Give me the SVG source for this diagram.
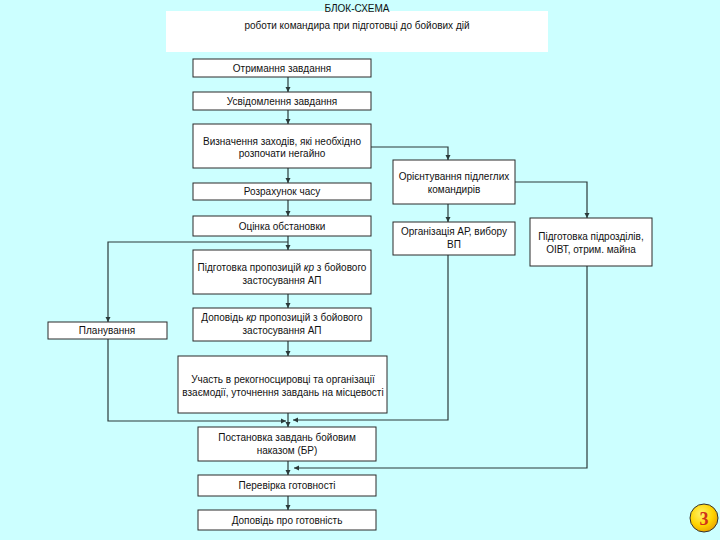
<svg xmlns="http://www.w3.org/2000/svg" width="720" height="540" viewBox="0 0 720 540">
<defs>
<style>
.b{fill:#fff;stroke:#2b2b2b;stroke-width:1}
.t{font-family:"Liberation Sans",Arial,sans-serif;font-size:10px;fill:#111;text-anchor:middle}
.c{fill:none;stroke:#2b3a3a;stroke-width:1.2}
</style>
<marker id="a" markerWidth="6" markerHeight="6" refX="5" refY="3" orient="auto" markerUnits="userSpaceOnUse">
<path d="M0,0.5 L5,3 L0,5.5 Z" fill="#2b3a3a"/>
</marker>
<radialGradient id="g" cx="0.4" cy="0.35" r="0.7">
<stop offset="0" stop-color="#fff36a"/>
<stop offset="0.6" stop-color="#ffd400"/>
<stop offset="1" stop-color="#e8a000"/>
</radialGradient>
</defs>
<rect x="0" y="0" width="720" height="540" fill="#ccffff"/>
<g id="header">
<rect x="166" y="11" width="382" height="41" fill="#fff"/>
<text class="t" x="357" y="12">БЛОК-СХЕМА</text>
<text class="t" x="357" y="29">роботи командира при підготовці до бойових дій</text>
</g>
<g id="connectors">
<path class="c" d="M288,77 V92" marker-end="url(#a)"/>
<path class="c" d="M288,110 V124" marker-end="url(#a)"/>
<path class="c" d="M288,168 V183" marker-end="url(#a)"/>
<path class="c" d="M288,200 V216" marker-end="url(#a)"/>
<path class="c" d="M288,236 V250" marker-end="url(#a)"/>
<path class="c" d="M288,294 V308" marker-end="url(#a)"/>
<path class="c" d="M288,341 V356" marker-end="url(#a)"/>
<path class="c" d="M288,413 V427" marker-end="url(#a)"/>
<path class="c" d="M288,461 V475" marker-end="url(#a)"/>
<path class="c" d="M288,496 V510" marker-end="url(#a)"/>
<path class="c" d="M371,147 H448 V160" marker-end="url(#a)"/>
<path class="c" d="M515,182 H587 V218" marker-end="url(#a)"/>
<path class="c" d="M448,204 V222" marker-end="url(#a)"/>
<path class="c" d="M288,242 H108 V322" marker-end="url(#a)"/>
<path class="c" d="M108,339 V421 H286" marker-end="url(#a)"/>
<path class="c" d="M448,255 V420 H293" marker-end="url(#a)"/>
<path class="c" d="M587,266 V468 H294" marker-end="url(#a)"/>
</g>
<g id="n1"><rect class="b" x="193" y="59" width="178" height="18"/><text class="t" x="282" y="72">Отримання завдання</text></g>
<g id="n2"><rect class="b" x="193" y="92" width="178" height="18"/><text class="t" x="282" y="105">Усвідомлення завдання</text></g>
<g id="n3"><rect class="b" x="193" y="124" width="178" height="44"/><text class="t" x="282" y="145">Визначення заходів, які необхідно</text><text class="t" x="282" y="157">розпочати негайно</text></g>
<g id="n4"><rect class="b" x="193" y="183" width="178" height="17"/><text class="t" x="282" y="195">Розрахунок часу</text></g>
<g id="n5"><rect class="b" x="193" y="216" width="178" height="20"/><text class="t" x="282" y="230">Оцінка обстановки</text></g>
<g id="n6"><rect class="b" x="193" y="250" width="178" height="44"/><text class="t" x="282" y="271">Підготовка пропозицій <tspan font-style="italic">кр</tspan> з бойового</text><text class="t" x="282" y="284">застосування АП</text></g>
<g id="n7"><rect class="b" x="193" y="308" width="178" height="33"/><text class="t" x="282" y="321">Доповідь <tspan font-style="italic">кр</tspan> пропозицій з бойового</text><text class="t" x="282" y="334">застосування АП</text></g>
<g id="n8"><rect class="b" x="178" y="356" width="209" height="57"/><text class="t" x="283" y="383">Участь в рекогносцировці та організації</text><text class="t" x="283" y="396">взаємодії, уточнення завдань на місцевості</text></g>
<g id="n9"><rect class="b" x="198" y="427" width="178" height="34"/><text class="t" x="287" y="441">Постановка завдань бойовим</text><text class="t" x="287" y="454">наказом (БР)</text></g>
<g id="n10"><rect class="b" x="198" y="475" width="178" height="21"/><text class="t" x="287" y="489">Перевірка готовності</text></g>
<g id="n11"><rect class="b" x="198" y="510" width="178" height="20"/><text class="t" x="287" y="524">Доповідь про готовність</text></g>
<g id="plan"><rect class="b" x="48" y="322" width="119" height="17"/><text class="t" x="107" y="334">Планування</text></g>
<g id="orient"><rect class="b" x="393" y="160" width="122" height="44"/><text class="t" x="454" y="180">Орієнтування підлеглих</text><text class="t" x="454" y="193">командирів</text></g>
<g id="org"><rect class="b" x="393" y="222" width="122" height="33"/><text class="t" x="454" y="235">Організація АР, вибору</text><text class="t" x="454" y="248">ВП</text></g>
<g id="prep"><rect class="b" x="530" y="218" width="122" height="48"/><text class="t" x="591" y="240">Підготовка підрозділів,</text><text class="t" x="591" y="253">ОІВТ, отрим. майна</text></g>
<g id="badge"><circle cx="704" cy="518" r="14" fill="url(#g)" stroke="#333" stroke-width="1"/><text x="704" y="525" text-anchor="middle" font-family="Liberation Serif,serif" font-weight="bold" font-size="18" fill="#d0301a">3</text></g>
</svg>
